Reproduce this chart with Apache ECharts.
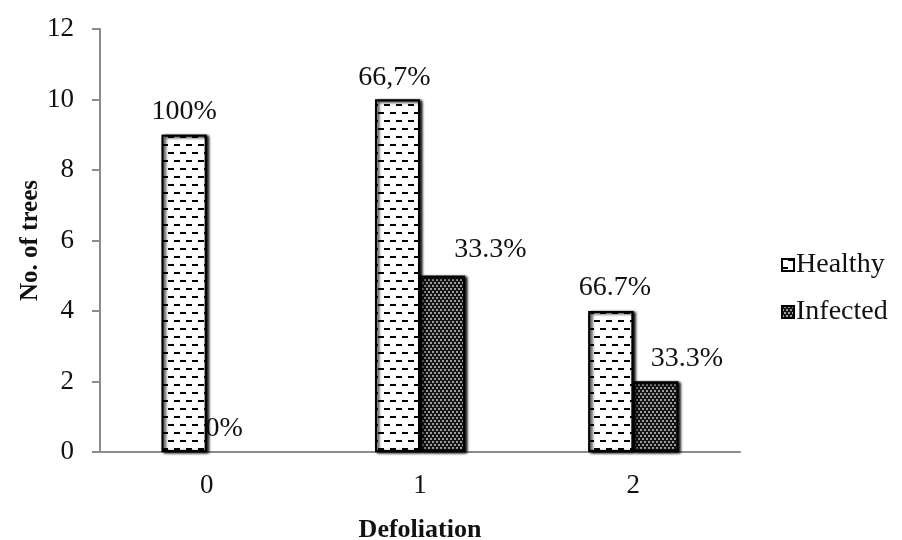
<!DOCTYPE html>
<html>
<head>
<meta charset="utf-8">
<script src="https://cdn.jsdelivr.net/npm/echarts@6/dist/echarts.min.js"></script>
<style>
  html, body { margin: 0; padding: 0; background: #fff; }
  #chart { width: 902px; height: 540px; }
</style>
</head>
<body>
<div id="chart"></div>
<script>
// Defoliation classes and tree counts
const categories = ['0', '1', '2'];
const healthy = [9, 10, 4];
const infected = [0, 5, 2];
const healthyLabels = ['100%', '66,7%', '66.7%'];
const infectedLabels = ['0%', '33.3%', '33.3%'];
const yTicks = [0, 2, 4, 6, 8, 10, 12];

const FONT = '"Liberation Serif", "Times New Roman", serif';
const TEXT = '#111';

// per-label nudges for the percentage annotations
const healthyOffsets = [[0, 0], [-3, 1], [4, 0]];
const infectedOffsets = [[-5, 0], [48, -3], [31, 0]];

function items(values, labels, offsets) {
  return values.map((v, i) => {
    const item = {
      value: v,
      label: { formatter: labels[i], offset: offsets[i] }
    };
    // an empty bar leaves no outline on the axis, only its label
    if (v === 0) {
      item.itemStyle = {
        borderWidth: 0,
        color: 'rgba(0,0,0,0)',
        shadowColor: 'rgba(0,0,0,0)',
        decal: { color: 'rgba(0,0,0,0)', backgroundColor: 'rgba(0,0,0,0)' }
      };
    }
    return item;
  });
}

const labelStyle = {
  show: true,
  position: 'top',
  distance: 9,
  fontFamily: FONT,
  fontSize: 28,
  color: TEXT
};

const chart = echarts.init(document.getElementById('chart'), null, { renderer: 'canvas' });

chart.setOption({
  backgroundColor: '#fff',
  animation: false,
  grid: { left: 100, right: 162, top: 29, bottom: 88, containLabel: false, outerBoundsMode: 'none' },
  legend: {
    orient: 'vertical',
    left: 776,
    top: 246,
    icon: 'rect',
    itemWidth: 12,
    itemHeight: 12,
    itemGap: 19,
    textStyle: { fontFamily: FONT, fontSize: 28, color: TEXT, padding: [0, 0, 0, -3] },
    data: ['Healthy', 'Infected']
  },
  xAxis: {
    type: 'category',
    data: categories,
    name: 'Defoliation',
    nameLocation: 'middle',
    nameGap: 65,
    nameMoveOverlap: false,
    nameTextStyle: { fontFamily: FONT, fontSize: 26, fontWeight: 'bold', color: TEXT },
    axisLine: { lineStyle: { color: '#8c8c8c', width: 2 } },
    axisTick: { show: false },
    axisLabel: { fontFamily: FONT, fontSize: 27, color: TEXT, margin: 20 }
  },
  yAxis: {
    type: 'value',
    min: 0,
    max: 12,
    interval: 2,
    name: 'No. of trees',
    nameLocation: 'middle',
    nameGap: 57,
    nameMoveOverlap: false,
    nameTextStyle: { fontFamily: FONT, fontSize: 25, fontWeight: 'bold', color: TEXT },
    axisLine: { show: true, lineStyle: { color: '#8c8c8c', width: 2 } },
    axisTick: { show: true, length: 8, lineStyle: { color: '#8c8c8c', width: 2 } },
    splitLine: { show: false },
    axisLabel: {
      fontFamily: FONT, fontSize: 27, color: TEXT, margin: 26,
      formatter: v => (yTicks.indexOf(v) >= 0 ? String(v) : '')
    }
  },
  series: [
    {
      name: 'Healthy',
      type: 'bar',
      barWidth: 45,
      barGap: '0%',
      data: items(healthy, healthyLabels, healthyOffsets),
      label: labelStyle,
      itemStyle: {
        color: '#fff',
        borderColor: '#000',
        borderWidth: 2,
        shadowColor: 'rgba(0,0,0,0.25)',
        shadowOffsetX: 2,
        shadowOffsetY: 1,
        shadowBlur: 3,
        decal: {
          symbol: 'rect',
          symbolSize: 1,
          color: '#000',
          backgroundColor: '#fff',
          dashArrayX: [[6, 6], [0, 6, 6, 0]],
          dashArrayY: [2, 6],
          rotation: 0
        }
      }
    },
    {
      name: 'Infected',
      type: 'bar',
      barWidth: 45,
      barGap: '0%',
      data: items(infected, infectedLabels, infectedOffsets),
      label: labelStyle,
      itemStyle: {
        color: '#222',
        borderColor: '#000',
        borderWidth: 2,
        shadowColor: 'rgba(0,0,0,0.25)',
        shadowOffsetX: 2,
        shadowOffsetY: 1,
        shadowBlur: 3,
        decal: {
          symbol: 'circle',
          symbolSize: 0.9,
          color: '#e0e0e0',
          backgroundColor: '#141414',
          dashArrayX: [[2, 2], [0, 2, 2, 0]],
          dashArrayY: [2, 1],
          rotation: 0
        }
      }
    }
  ]
});
</script>
</body>
</html>
